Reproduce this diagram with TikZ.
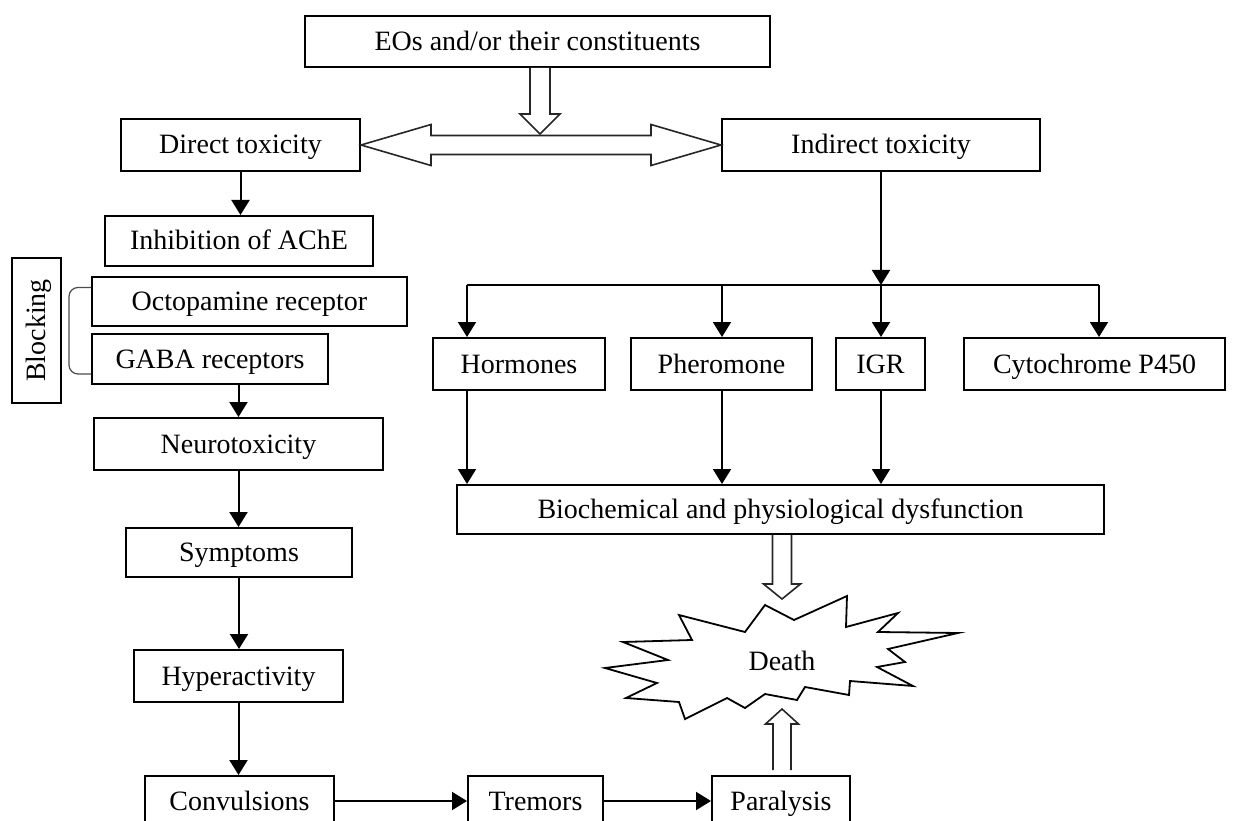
\documentclass[tikz,border=0pt]{standalone}
\usepackage{fontspec}
\setmainfont{Liberation Serif}
\usetikzlibrary{arrows.meta,calc}
\tikzset{
  box/.style={draw, line width=2pt, inner sep=0pt, text height=22pt, text depth=4pt,
    font=\fontsize{28}{32}\selectfont},
  arr/.style={line width=2pt, -{Triangle[length=15pt,width=18pt]}},
  hollow/.style={draw=black!85, line width=1.6pt, fill=white, line join=miter},
  pics/blockarrow/.style n args={4}{code={
    \draw[hollow] (-#3,0) -- (-#3,#1-#2) -- (-#4,#1-#2) -- (0,#1) -- (#4,#1-#2) -- (#3,#1-#2) -- (#3,0);
  }}
}
\begin{document}
\begin{tikzpicture}[x=1pt,y=-1pt]
      \useasboundingbox (0,0) rectangle (1235,821);
      \def \Boxes{
        eos/537.5/41.5/465/51/{EOs and/or their constituents},
        direct/240.5/145/239/52/{Direct toxicity},
        indirect/881/145/318/52/{Indirect toxicity},
        ache/239/241/268/50/{Inhibition of AChE},
        octo/249.5/301.5/315/49/{Octopamine receptor},
        gaba/210/359/236/50/{GABA receptors},
        neuro/238.5/444/289/52/{Neurotoxicity},
        symp/239/552.5/226/49/{Symptoms},
        hyper/238.5/676/209/52/{Hyperactivity},
        conv/239.5/801/189/50/{Convulsions},
        trem/535.5/801/135/50/{Tremors},
        para/781/801/138/50/{Paralysis},
        horm/519/364/172/52/{Hormones},
        phero/721.5/364/181/52/{Pheromone},
        igr/880.5/364/89/52/{IGR},
        cyto/1094.5/364/261/52/{Cytochrome P450},
        bio/780.5/509.5/647/49/{Biochemical and physiological dysfunction}}
      \foreach \id / \x / \y / \w / \h / \lb in \Boxes{
        \node[box, minimum width=\w, minimum height=\h] (\id) at (\x, \y) {\lb};
      }
      \node[box, rotate=90, minimum width=145, minimum height=49] (block) at (36.5, 330.5) {Blocking};
      \draw[line width=1.2pt, black!70, rounded corners=9pt] ($(octo.west)+(0,-14)$) -- ++(-22,0)
        -- ($(gaba.west)+(-22,15)$) -- ($(gaba.west)+(0,15)$);
      \foreach \a / \b in {direct/ache, neuro/symp, symp/hyper, hyper/conv}{
        \draw[arr] (\a.south) -- (\a.south |- \b.north);
      }
      \draw[arr] (neuro.north |- gaba.south) -- (neuro.north);
      \foreach \a / \b in {conv/trem, trem/para}{
        \draw[arr] (\a.east) -- (\b.west);
      }
      \coordinate (split) at (881, 285);
      \draw[arr] (indirect.south) -- (split);
      \draw[line width=2pt] (467, 285) -- (1099, 285);
      \foreach \id / \x in {horm/467, phero/722, igr/881, cyto/1099}{
        \draw[arr] (\x,285) -- (\x,0 |- \id.north);
      }
      \foreach \id / \x in {horm/467, phero/722, igr/881}{
        \draw[arr] (\x,0 |- \id.south) -- (\x,0 |- bio.north);
      }
      \draw[hollow] (direct.east) -- ++(70,-20.5) -- ++(0,11) -- ($(indirect.west)+(-70,-9.5)$)
        -- ++(0,-11) -- (indirect.west) -- ++(-70,20.5) -- ++(0,-11)
        -- ($(direct.east)+(70,9.5)$) -- ++(0,11) -- cycle;
      \pic at ($(eos.south)+(2.5,0)$) {blockarrow={66}{20}{10}{20}};
      \draw[line width=1.8pt, line join=miter] plot coordinates {
        (765,605) (794,620) (847,596) (846,627) (898,613) (878,632) (958,633)
        (888,649) (905,662) (877,667) (913,686) (850,681) (849,695) (805,687)
        (797,700) (765,694) (745,708) (727,698) (685,719) (679,702) (626,698)
        (657,683) (605,668) (668,660) (623,642) (692,640) (679,615) (745,632)} -- cycle;
      \node[inner sep=0pt, text height=22pt, text depth=4pt, font=\fontsize{28}{32}\selectfont]
        (death) at (782, 661) {Death};
      \pic at ($(bio.south)+(1.5,0)$) {blockarrow={64}{15}{9.5}{18.5}};
      \pic[rotate=180] at ($(para.north)+(1,-5)$) {blockarrow={61}{15}{9}{16.5}};
    \end{tikzpicture}
\end{document}
